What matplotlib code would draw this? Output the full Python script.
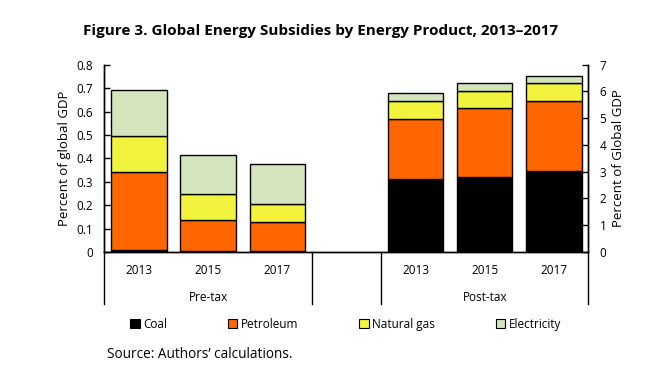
import matplotlib.pyplot as plt
import matplotlib.transforms as mtransforms
from matplotlib.patches import Patch

plt.rcParams['font.family'] = ['Open Sans', 'DejaVu Sans']

years = ['2013', '2015', '2017']
groups = ['Pre-tax', 'Post-tax']
products = ['Coal', 'Petroleum', 'Natural gas', 'Electricity']
colors = ['#000000', '#FF6600', '#F2F33C', '#D4E4BC']

# percent of global GDP, pre-tax (left axis)
pre_coal = [0.007, 0.003, 0.003]
pre_petroleum = [0.334, 0.133, 0.124]
pre_gas = [0.154, 0.111, 0.077]
pre_electricity = [0.197, 0.167, 0.171]

# percent of global GDP, post-tax (right axis)
post_coal = [2.73, 2.80, 3.03]
post_petroleum = [2.25, 2.57, 2.60]
post_gas = [0.67, 0.63, 0.67]
post_electricity = [0.28, 0.30, 0.28]

pre = [pre_coal, pre_petroleum, pre_gas, pre_electricity]
post = [post_coal, post_petroleum, post_gas, post_electricity]
pre_x = [0, 1, 2]
post_x = [4, 5, 6]

fig = plt.figure(figsize=(6.56, 3.77), dpi=100)
ax = fig.add_axes([0.159, 0.3316, 0.738, 0.4968])
ax2 = ax.twinx()

bottom = [0, 0, 0]
for vals, c in zip(pre, colors):
    ax.bar(pre_x, vals, 0.8, bottom=bottom, color=c, edgecolor='black', linewidth=1)
    bottom = [b + v for b, v in zip(bottom, vals)]

bottom = [0, 0, 0]
for vals, c in zip(post, colors):
    ax2.bar(post_x, vals, 0.8, bottom=bottom, color=c, edgecolor='black', linewidth=1)
    bottom = [b + v for b, v in zip(bottom, vals)]

ax.set_xlim(-0.5, 6.5)
ax.set_ylim(0, 0.8)
ax2.set_ylim(0, 7)
ax.set_yticks([0, 0.1, 0.2, 0.3, 0.4, 0.5, 0.6, 0.7, 0.8])
ax.set_yticklabels(['0', '0.1', '0.2', '0.3', '0.4', '0.5', '0.6', '0.7', '0.8'])
ax2.set_yticks(range(8))
ax.set_xticks([])
for a in (ax, ax2):
    a.spines['top'].set_visible(False)
    a.tick_params(axis='y', direction='in', length=4, width=1, labelsize=8.5, pad=8)
    for s in a.spines.values():
        s.set_linewidth(1)
ax.set_ylabel('Percent of global GDP', fontsize=9.5, labelpad=4)
ax2.set_ylabel('Percent of Global GDP', fontsize=9.5, labelpad=4)

# category axis below the bars
trans = mtransforms.blended_transform_factory(ax.transData, ax.transAxes)
for xv in [-0.5, 2.5, 3.5, 6.5]:
    ax.plot([xv, xv], [0, -0.279], color='black', lw=1, transform=trans, clip_on=False)
for xs in (pre_x, post_x):
    for xv, yr in zip(xs, years):
        ax.text(xv, -0.1, yr, transform=trans, ha='center', va='center', fontsize=8.5)
ax.text(1, -0.242, groups[0], transform=trans, ha='center', va='center', fontsize=8.5)
ax.text(5, -0.242, groups[1], transform=trans, ha='center', va='center', fontsize=8.5)

fig.text(0.489, 0.919, 'Figure 3. Global Energy Subsidies by Energy Product, 2013\u20132017',
         ha='center', va='center', fontsize=11, fontweight='bold')

handles = [Patch(facecolor=c, edgecolor='black', linewidth=0.8) for c in colors]
fig.legend(handles, products, loc='center', bbox_to_anchor=(0.527, 0.14), ncol=4,
           frameon=False, fontsize=8.5, handlelength=0.8, handleheight=0.8,
           handletextpad=0.3, columnspacing=5.15)

fig.text(0.163, 0.061, 'Source: Authors\u2019 calculations.', ha='left', va='center', fontsize=9.8)

fig.savefig('out.png', dpi=100)
